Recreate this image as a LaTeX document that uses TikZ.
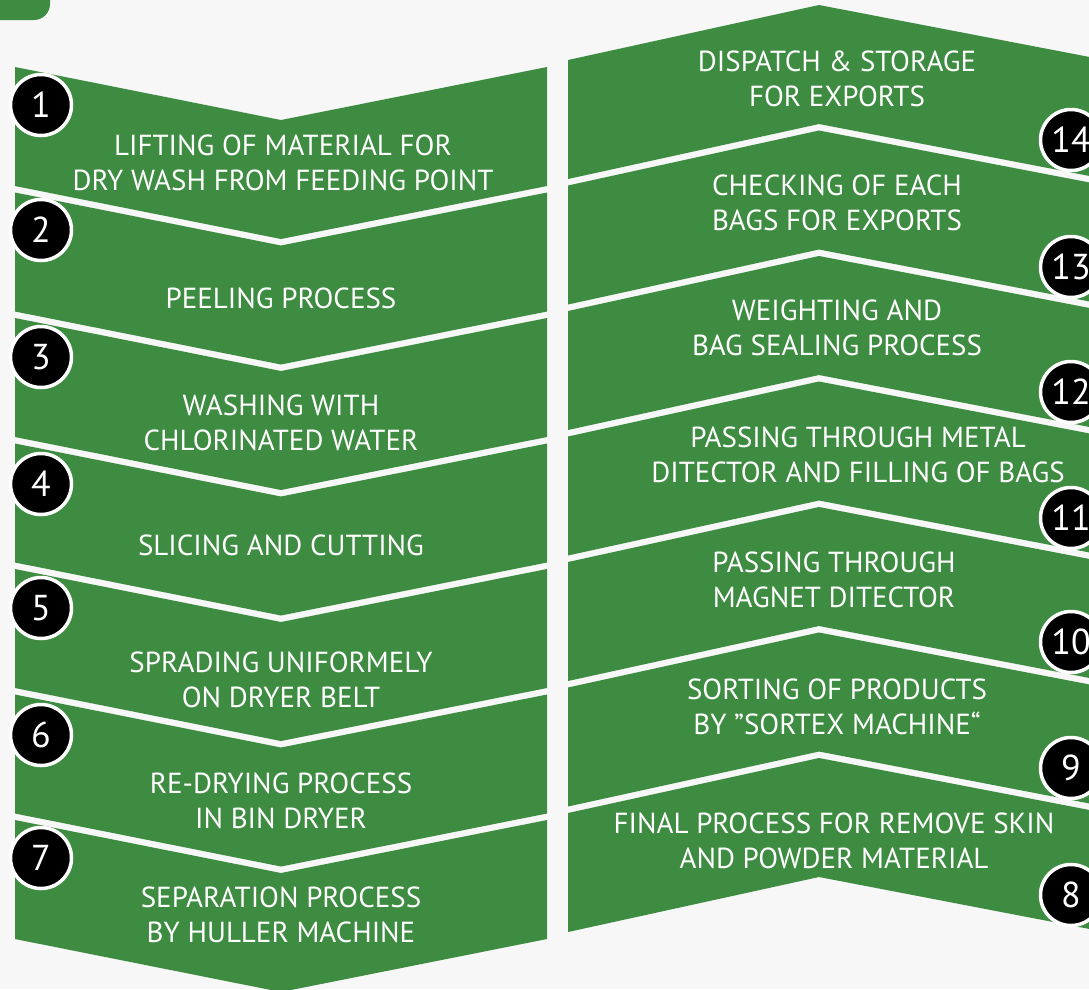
\documentclass[tikz,border=0pt]{standalone}
\usepackage{fontspec}
\setmainfont{PT Sans}
\definecolor{stepgreen}{RGB}{62,140,65}
\definecolor{pagegray}{RGB}{247,247,247}
\tikzset{
  band/.style={fill=stepgreen},
  steptext/.style={text=white, align=center, inner sep=0pt, font=\fontsize{29}{35}\selectfont},
  numdisc/.style={circle, fill=black, draw=white, line width=3.5pt, minimum size=61pt, inner sep=0pt, text=white, font=\fontsize{36}{36}\selectfont}
}
\begin{document}
\begin{tikzpicture}[x=1pt,y=-1pt]
\useasboundingbox (0,0) rectangle (1089,989);
\clip (0,0) rectangle (1089,989);
\fill[pagegray] (0,0) rectangle (1089,989);

% Corner tab
\fill[stepgreen, rounded corners=16pt] (-40,-40) rectangle (50,20);

% Left column, chevrons pointing down
\foreach \i in {0,...,6}{
  \pgfmathsetmacro\t{67+125.5*\i}
  \fill[band] (15,\t) -- (281,{\t+53}) -- (547,\t) -- (547,{\t+119})
    -- (281,{\t+172}) -- (15,{\t+119}) -- cycle;
}

% Right column, chevrons pointing up
\foreach \k in {0,...,6}{
  \pgfmathsetmacro\t{60+125.5*\k}
  \fill[band] (568,\t) -- (819,{\t-55}) -- (1100,{\t-1}) -- (1100,{\t+118})
    -- (819,{\t+64}) -- (568,{\t+119}) -- cycle;
}

% Step labels, left
\node[steptext] (s1) at (283,162.5) {LIFTING OF MATERIAL FOR\\DRY WASH FROM FEEDING POINT};
\node[steptext] (s2) at (281,298) {PEELING PROCESS};
\node[steptext] (s3) at (281,422.5) {WASHING WITH\\CHLORINATED WATER};
\node[steptext] (s4) at (281,545) {SLICING AND CUTTING};
\node[steptext] (s5) at (281,679.5) {SPRADING UNIFORMELY\\ON DRYER BELT};
\node[steptext] (s6) at (281,800.5) {RE-DRYING PROCESS\\IN BIN DRYER};
\node[steptext] (s7) at (281,914.5) {SEPARATION PROCESS\\BY HULLER MACHINE};

% Step labels, right
\node[steptext] (s14) at (837,78.5) {DISPATCH \& STORAGE\\FOR EXPORTS};
\node[steptext] (s13) at (837,202.5) {CHECKING OF EACH\\BAGS FOR EXPORTS};
\node[steptext] (s12) at (837,327.5) {WEIGHTING AND\\BAG SEALING PROCESS};
\node[steptext] (s11) at (858,454.5) {PASSING THROUGH METAL\\DITECTOR AND FILLING OF BAGS};
\node[steptext] (s10) at (834,579.5) {PASSING THROUGH\\MAGNET DITECTOR};
\node[steptext] (s9) at (837,706.5) {SORTING OF PRODUCTS\\BY ”SORTEX MACHINE“};
\node[steptext] (s8) at (834,841) {FINAL PROCESS FOR REMOVE SKIN\\AND POWDER MATERIAL};

% Numbers
\foreach \n/\y in {1/105,2/230,3/357,4/484,5/608,6/735,7/858}
  \node[numdisc] (n\n) at (41,\y) {\n};
\foreach \n/\y in {14/140,13/267,12/392,11/518,10/642,9/768,8/895}
  \node[numdisc] (n\n) at (1071,\y) {\n};

\end{tikzpicture}
\end{document}
